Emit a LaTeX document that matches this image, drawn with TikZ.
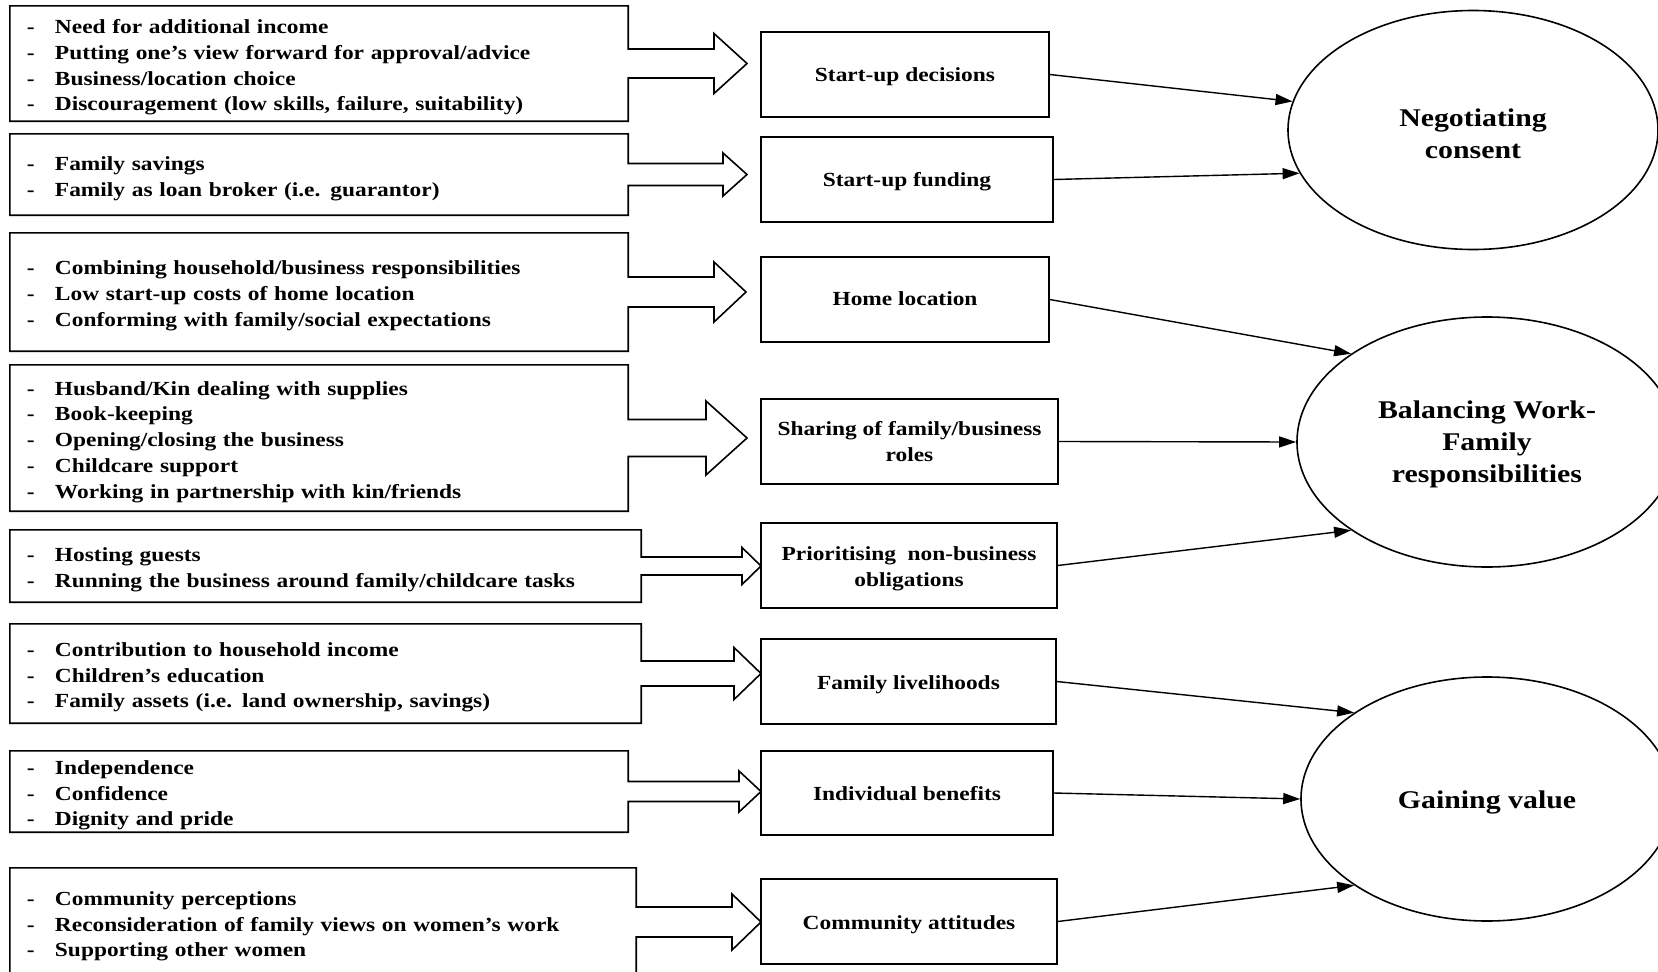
\documentclass[tikz,border=0pt]{standalone}
\usepackage{fontspec}
\setmainfont{Liberation Serif}[FakeStretch=1.17]
\usetikzlibrary{calc,shapes.geometric,arrows.meta}
\newcommand{\itm}{\makebox[28pt][l]{-}}
% #1 column type, #2 downward shift, #3 lines
\newcommand{\dn}[3]{\raisebox{-#2}[\height][\depth]{\begin{tabular}{@{}#1@{}}#3\end{tabular}}}
% #1 left box node, #2 shaft half height, #3 head start x, #4 head half height, #5 tip x
\newcommand{\blockarrow}[5]{%
  \draw[outl] let \p1=(#1.east) in
    (#1.north west) -- (#1.north east) -- (\x1,\y1+#2pt) -- (#3pt,\y1+#2pt)
    -- (#3pt,\y1+#4pt) -- (#5pt,\y1) -- (#3pt,\y1-#4pt) -- (#3pt,\y1-#2pt)
    -- (\x1,\y1-#2pt) -- (#1.south east) -- (#1.south west) -- cycle;}
\tikzset{
  outl/.style={draw=black, line width=1.6pt, line join=miter},
  lbox/.style={draw=none, inner xsep=17pt, inner ysep=0pt, align=left,
    font=\bfseries\fontsize{20}{25.8}\selectfont},
  mbox/.style={draw=black, line width=1.6pt, inner sep=0pt,
    font=\bfseries\fontsize{20}{26.4}\selectfont},
  theme/.style={ellipse, draw=black, line width=1.6pt, inner sep=0pt,
    font=\bfseries\fontsize{25.5}{32}\selectfont},
  conn/.style={draw=black, line width=1.4pt, -{Triangle[length=17pt,width=11pt]}},
}
\begin{document}
\begin{tikzpicture}[x=1pt,y=-1pt]
\useasboundingbox (0,0) rectangle (1658,972);
\clip (0,0) rectangle (1658,972);
\fill[white] (0,0) rectangle (1658,972);

% left boxes (text)
\node[lbox, text width=584pt, minimum height=115pt] (L1) at (319,63.5)
  {\dn{l}{3.5pt}{\itm Need for additional income\\
   \itm Putting one’s view forward for approval/advice\\
   \itm Business/location choice\\
   \itm Discouragement (low skills, failure, suitability)}};
\node[lbox, text width=584pt, minimum height=81pt] (L2) at (319,174.5)
  {\dn{l}{3.5pt}{\itm Family savings\\
   \itm Family as loan broker (i.e. guarantor)}};
\node[lbox, text width=584pt, minimum height=118pt] (L3) at (319,292)
  {\dn{l}{3.5pt}{\itm Combining household/business responsibilities\\
   \itm Low start-up costs of home location\\
   \itm Conforming with family/social expectations}};
\node[lbox, text width=584pt, minimum height=146pt] (L4) at (319,438)
  {\dn{l}{3.5pt}{\itm Husband/Kin dealing with supplies\\
   \itm Book-keeping\\
   \itm Opening/closing the business\\
   \itm Childcare support\\
   \itm Working in partnership with kin/friends}};
\node[lbox, text width=597pt, minimum height=72pt] (L5) at (325.5,566)
  {\dn{l}{3.5pt}{\itm Hosting guests\\
   \itm Running the business around family/childcare tasks}};
\node[lbox, text width=597pt, minimum height=99pt] (L6) at (325.5,673.5)
  {\dn{l}{3.5pt}{\itm Contribution to household income\\
   \itm Children’s education\\
   \itm Family assets (i.e. land ownership, savings)}};
\node[lbox, text width=584pt, minimum height=81pt] (L7) at (319,791.5)
  {\dn{l}{3.5pt}{\itm Independence\\
   \itm Confidence\\
   \itm Dignity and pride}};
\node[lbox, text width=592pt, minimum height=108pt] (L8) at (323,922)
  {\dn{l}{4pt}{\itm Community perceptions\\
   \itm Reconsideration of family views on women’s work\\
   \itm Supporting other women}};

% box outlines merged with block arrows
\blockarrow{L1}{14.5}{714}{30}{747}
\blockarrow{L2}{11}{723}{21.5}{747}
\blockarrow{L3}{15}{714}{30}{746}
\blockarrow{L4}{18.5}{706}{37}{747}
\blockarrow{L5}{9}{742}{18.5}{761}
\blockarrow{L6}{12.5}{734}{26}{761}
\blockarrow{L7}{10}{739}{20.5}{761}
\blockarrow{L8}{15}{732}{28}{761}

% middle boxes
\node[mbox, minimum width=288pt, minimum height=85pt] (M1) at (905,74.5) {\dn{c}{2pt}{Start-up decisions}};
\node[mbox, minimum width=292pt, minimum height=85pt] (M2) at (907,179.5) {\dn{c}{2pt}{Start-up funding}};
\node[mbox, minimum width=288pt, minimum height=85pt] (M3) at (905,299.5) {\dn{c}{1pt}{Home location}};
\node[mbox, minimum width=297pt, minimum height=85pt] (M4) at (909.5,441.5) {\dn{c}{1.5pt}{Sharing of family/business\\roles}};
\node[mbox, minimum width=296pt, minimum height=85pt] (M5) at (909,565.5) {\dn{c}{3pt}{Prioritising\ \ non-business\\obligations}};
\node[mbox, minimum width=295pt, minimum height=85pt] (M6) at (908.5,681.5) {\dn{c}{2.5pt}{Family livelihoods}};
\node[mbox, minimum width=292pt, minimum height=84pt] (M7) at (907,793) {\dn{c}{2pt}{Individual benefits}};
\node[mbox, minimum width=296pt, minimum height=85pt] (M8) at (909,921.5) {\dn{c}{3pt}{Community attitudes}};

% themes
\node[theme, minimum width=370pt, minimum height=239pt] (E1) at (1473,130) {\dn{c}{6pt}{Negotiating\\consent}};
\node[theme, minimum width=380pt, minimum height=250pt] (E2) at (1487,442) {\dn{c}{2.5pt}{Balancing Work-\\Family\\responsibilities}};
\node[theme, minimum width=372pt, minimum height=244pt] (E3) at (1487,799) {\dn{c}{3pt}{Gaining value}};

% connectors
\draw[conn] (M1.east) -- (E1.171);
\draw[conn] (M2.east) -- (E1.194);
\draw[conn] (M3.east) -- (E2.147);
\draw[conn] (M4.east) -- (E2.180);
\draw[conn] (M5.east) -- (E2.213);
\draw[conn] (M6.east) -- (E3.147);
\draw[conn] (M7.east) -- (E3.180);
\draw[conn] (M8.east) -- (E3.213);
\end{tikzpicture}
\end{document}
